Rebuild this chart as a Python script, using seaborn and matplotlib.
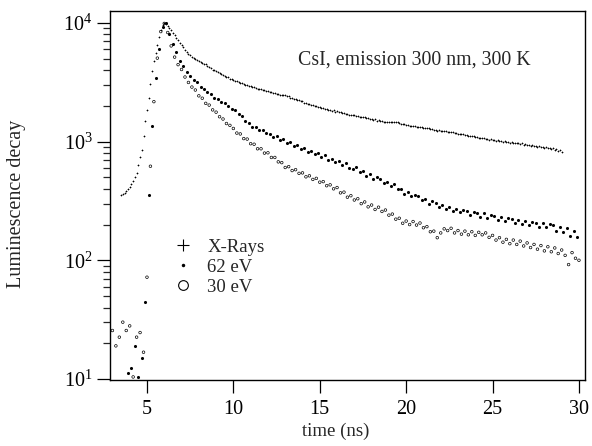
import numpy as np
import matplotlib
matplotlib.use("Agg")
import matplotlib.pyplot as plt
from matplotlib.lines import Line2D
import seaborn as sns

# X-Rays: sampled every 0.1 ns starting at 3.5 ns
xray_t0, xray_dt = 3.5, 0.1
xray = [
    355, 360, 370, 381, 396,
    414, 437, 470, 502, 549, 640, 745, 852, 1120, 1480,
    1830, 2350, 3050, 3950, 4750, 5600, 6500, 7600, 8700, 9600,
    10000, 9850, 9450, 9050, 8650, 8250, 7900, 7500, 7150, 6800,
    6550, 6250, 5950, 5700, 5520, 5380, 5200, 5050, 4960, 4870,
    4760, 4690, 4620, 4510, 4470, 4370, 4270, 4140, 4050, 3990,
    3920, 3860, 3780, 3730, 3640, 3590, 3510, 3470, 3390, 3360,
    3310, 3260, 3230, 3160, 3140, 3090, 3070, 3020, 3000, 2940,
    2930, 2870, 2860, 2810, 2800, 2750, 2750, 2710, 2700, 2660,
    2650, 2610, 2610, 2570, 2570, 2540, 2530, 2490, 2490, 2460,
    2450, 2400, 2400, 2350, 2340, 2290, 2280, 2240, 2230, 2190,
    2180, 2130, 2130, 2080, 2080, 2030, 2030, 1980, 1980, 1940,
    1950, 1910, 1920, 1880, 1890, 1860, 1860, 1820, 1830, 1790,
    1800, 1760, 1770, 1730, 1740, 1700, 1710, 1680, 1690, 1660,
    1670, 1640, 1650, 1620, 1610, 1600, 1600, 1570, 1580, 1550,
    1560, 1530, 1540, 1500, 1510, 1480, 1490, 1470, 1475, 1460,
    1470, 1450, 1460, 1465, 1450, 1450, 1425, 1420, 1395, 1400,
    1385, 1385, 1365, 1365, 1350, 1350, 1335, 1335, 1320, 1320,
    1305, 1305, 1290, 1290, 1275, 1275, 1255, 1260, 1240, 1245,
    1230, 1235, 1220, 1225, 1205, 1215, 1200, 1195, 1180, 1180,
    1165, 1170, 1150, 1150, 1135, 1140, 1120, 1125, 1105, 1110,
    1090, 1095, 1075, 1080, 1065, 1070, 1055, 1060, 1040, 1045,
    1030, 1035, 1020, 1025, 1010, 1020, 1000, 1005, 990, 1000,
    980, 990, 970, 980, 965, 970, 955, 965, 945, 955,
    935, 945, 925, 935, 915, 925, 905, 915, 895, 905,
    885, 895, 875, 885, 865, 875, 850, 860, 835, 845,
    810,
]

# 62 eV: every 0.2 ns starting at 3.9 ns
ev62_t0, ev62_dt = 3.9, 0.2
ev62 = [
    11.3, 12.3, 19.0, 10.4, 15.0, 44.9, 356, 1360, 3440, 6000,
    9300, 10000, 8100, 6700, 5700, 4750, 4350, 3850, 3600, 3300,
    3200, 2900, 2800, 2600, 2520, 2350, 2300, 2170, 2120, 1980,
    1900,
    1840, 1700, 1640, 1490, 1430, 1330, 1330, 1250, 1260, 1190,
    1170, 1090, 1110, 1030, 1050, 970, 1000, 925, 930, 870,
    875, 825, 840, 790, 800, 745, 765, 705, 715, 670,
    690, 630, 655, 600, 590, 605, 550, 565, 515, 535,
    485, 500, 480, 445, 455, 420, 435, 395, 400, 365,
    375, 345, 355, 350, 320, 330, 300, 315, 305, 282,
    290, 270, 282, 262, 272, 255, 265, 262, 240, 254,
    250, 232, 248, 228, 240, 236, 218, 230, 214, 226,
    222, 205, 218, 202, 214, 198, 210, 208, 192, 206,
    190, 204, 200, 178, 192, 172, 188, 160, 176, 158,
]

# 30 eV: every 0.2 ns starting at 3.0 ns
ev30_t0, ev30_dt = 3.0, 0.2
ev30 = [
    25.6, 19.0, 22.5, 30.1, 25.6, 28.0, 10.4, 22.5, 24.6, 16.8,
    72, 620, 2170, 5050, 8450, 9900,
    8300, 6400, 5150, 4450, 4050, 3500, 3150, 2880, 2720, 2430,
    2320, 2100, 2030, 1850, 1770, 1620, 1550, 1420, 1370,
    1290, 1180, 1160, 1060, 1050, 960, 950, 870, 870, 800,
    805, 735, 735, 675, 665, 605, 615, 570, 580, 540,
    545, 505, 515, 480, 490, 455, 460, 425, 432, 400,
    410, 370, 375, 340, 350, 322, 330, 300, 310, 282,
    292, 268, 280, 258, 265, 240, 245, 222, 226, 205,
    214, 200, 212, 198, 206, 188, 192, 174, 176, 155,
    170, 184, 178, 186, 170, 178, 166, 176, 164, 174,
    162, 172, 164, 170, 156, 162, 148, 155, 142, 150,
    138, 148, 136, 145, 132, 140, 128, 136, 124, 133,
    120, 130, 118, 127, 114, 122, 110, 92, 116, 104,
    100,
]

labels = ["X-Rays", "62 eV", "30 eV"]
x_ticks = [5, 10, 15, 20, 25, 30]

xray_t = np.round(xray_t0 + xray_dt * np.arange(len(xray)), 2)
ev62_t = np.round(ev62_t0 + ev62_dt * np.arange(len(ev62)), 2)
ev30_t = np.round(ev30_t0 + ev30_dt * np.arange(len(ev30)), 2)

sns.set_style("ticks")
plt.rcParams["font.family"] = ["Liberation Serif", "DejaVu Serif"]
plt.rcParams["mathtext.fontset"] = "stix"

fig = plt.figure(figsize=(5.92, 4.46), dpi=100)
ax = fig.add_axes([110 / 592, 1 - 380 / 446, 475 / 592, 369 / 446])

sns.scatterplot(x=xray_t, y=xray, ax=ax, marker="+", s=2.5, color="k",
                linewidth=0.5)
sns.scatterplot(x=ev62_t, y=ev62, ax=ax, marker="o", s=5, color="k",
                linewidth=0)
sns.scatterplot(x=ev30_t, y=ev30, ax=ax, marker="o", s=3.5,
                facecolors="none", edgecolor="k", linewidth=0.5)

ax.set_yscale("log")
ax.set_xlim(2.86, 30.35)
ax.set_ylim(9.8, 12600)
ax.set_xticks(x_ticks)
ax.xaxis.set_minor_locator(matplotlib.ticker.NullLocator())

for s in ax.spines.values():
    s.set_linewidth(1.0)
    s.set_color("k")
ax.tick_params(which="major", direction="out", length=9.5, width=0.9,
               labelsize=14.5, colors="k", pad=3)
ax.tick_params(axis="x", pad=5)
ax.tick_params(which="minor", direction="out", length=5, width=0.9)
ax.tick_params(top=False, right=False, which="both")

ax.set_xlabel("time (ns)", fontsize=13.5)
ax.set_ylabel("Luminescence decay", fontsize=14.5)
ax.xaxis.set_label_coords(0.476, -0.115)
ax.yaxis.set_label_coords(-0.176, 0.477)

ax.text(0.64, 0.868, "CsI, emission 300 nm, 300 K", transform=ax.transAxes,
        ha="center", va="center", fontsize=14.3)

handles = [
    Line2D([], [], marker="+", ls="none", color="k", markersize=8, mew=0.8),
    Line2D([], [], marker="o", ls="none", color="k", markersize=2.5, mew=0),
    Line2D([], [], marker="o", ls="none", mfc="none", mec="k", markersize=7,
           mew=0.8),
]
ax.legend(handles, labels, loc="upper left", bbox_to_anchor=(0.134, 0.383),
          frameon=False, fontsize=13.5, handlelength=1.0, handletextpad=0.8,
          labelspacing=0.15, borderpad=0, borderaxespad=0)

fig.savefig("out.png", dpi=100)
